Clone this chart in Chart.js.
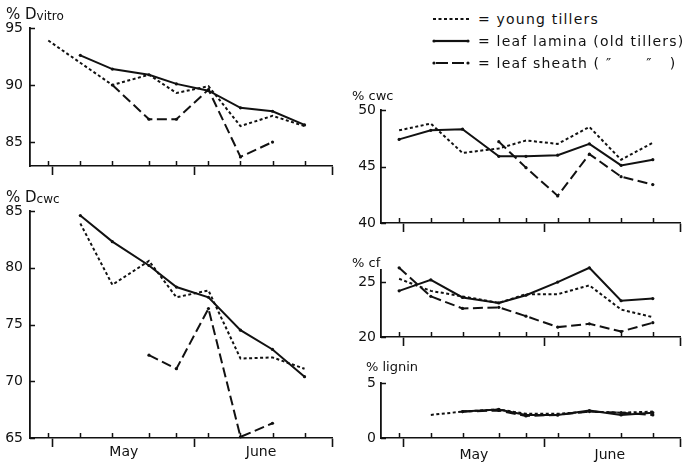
<!DOCTYPE html>
<html lang="en">
<head>
<meta charset="UTF-8">
<title>Digestibility and cell wall composition</title>
<script src="https://cdn.jsdelivr.net/npm/chart.js"></script>
<style>
  body { margin: 0; background: #fff; font-family: "DejaVu Sans", sans-serif; color: #111; }
  #wrap { position: relative; width: 685px; height: 464px; overflow: hidden; }
  canvas { position: absolute; }
  .ttl { position: absolute; font-size: 15px; line-height: 16px; white-space: pre; }
  .ttl .s { font-size: 12px; position: relative; top: 1px; }
  .ttl.sm { font-size: 13px; }
  .leg { position: absolute; left: 432px; height: 16px; font-size: 14px; letter-spacing: 1.2px;
         white-space: pre; display: flex; align-items: center; }
  .leg svg { margin-right: 8px; }
</style>
</head>
<body>
<div id="wrap">
  <canvas id="dvitro" width="345" height="190" style="left:0;top:0"></canvas>
  <canvas id="dcwc" width="345" height="274" style="left:0;top:190px"></canvas>
  <canvas id="cwc" width="345" height="150" style="left:340px;top:90px"></canvas>
  <canvas id="cf" width="345" height="105" style="left:340px;top:250px"></canvas>
  <canvas id="lignin" width="345" height="104" style="left:340px;top:360px"></canvas>

  <div class="ttl" style="left:6px;top:6px">% D<span class="s">vitro</span></div>
  <div class="ttl" style="left:6px;top:189px">% D<span class="s">cwc</span></div>
  <div class="ttl sm" style="left:352px;top:88px">% cwc</div>
  <div class="ttl sm" style="left:352px;top:255px">% cf</div>
  <div class="ttl sm" style="left:366px;top:359px">% lignin</div>

  <div class="leg" style="top:11px"><svg width="38" height="6"><line x1="1" y1="3" x2="37" y2="3" stroke="#111" stroke-width="2" stroke-dasharray="3 2.5"/></svg>= young tillers</div>
  <div class="leg" style="top:33px"><svg width="38" height="6"><line x1="3" y1="3" x2="35" y2="3" stroke="#111" stroke-width="2.2"/><circle cx="2" cy="3" r="1.6" fill="#111"/><circle cx="36" cy="3" r="1.6" fill="#111"/></svg>= leaf lamina (old tillers)</div>
  <div class="leg" style="top:55px"><svg width="38" height="6"><line x1="4" y1="3" x2="34" y2="3" stroke="#111" stroke-width="2.2" stroke-dasharray="12 4"/><circle cx="2" cy="3" r="1.6" fill="#111"/><circle cx="36" cy="3" r="1.6" fill="#111"/></svg>= leaf sheath ( ″      ″   )</div>
</div>

<script>
// sampling dates, in days after 1 May
const sampleDays = [-1, 6, 13, 21, 27, 34, 41, 48, 55];
const monthTicks = [0, 31, 61];
const monthMid = [15.5, 45.5];
const monthNames = ['May', 'June'];

// % Dvitro
const dvitroYoung  = [93.9, null, 90.0, 90.9, 89.3, 89.9, 86.4, 87.3, 86.4];
const dvitroLamina = [null, 92.6, 91.4, 90.9, 90.1, 89.5, 88.0, 87.7, 86.5];
const dvitroSheath = [null, null, 90.0, 87.0, 87.0, 89.6, 83.7, 85.0, null];
const dvitroTicks = [85, 90, 95];

// % Dcwc
const dcwcYoung  = [null, 83.9, 78.5, 80.6, 77.4, 78.0, 72.0, 72.1, 71.1];
const dcwcLamina = [null, 84.6, 82.3, 80.2, 78.3, 77.4, 74.5, 72.8, 70.4];
const dcwcSheath = [null, null, null, 72.3, 71.1, 76.4, 65.1, 66.3, null];
const dcwcTicks = [65, 70, 75, 80, 85];

// % cwc
const cwcYoung  = [48.2, 48.8, 46.2, 46.6, 47.3, 47.0, 48.5, 45.6, 47.1];
const cwcLamina = [47.4, 48.2, 48.3, 45.9, 45.9, 46.0, 47.0, 45.1, 45.6];
const cwcSheath = [null, null, null, 47.2, 44.9, 42.4, 46.1, 44.1, 43.4];
const cwcTicks = [40, 45, 50];

// % cf
const cfYoung  = [25.3, 24.2, 23.7, 23.1, 23.9, 23.9, 24.7, 22.5, 21.8];
const cfLamina = [24.2, 25.2, 23.6, 23.1, 23.8, 25.0, 26.3, 23.3, 23.5];
const cfSheath = [26.3, 23.7, 22.6, 22.7, 21.9, 20.9, 21.2, 20.5, 21.3];
const cfTicks = [20, 25];

// % lignin
const ligninYoung  = [null, 2.1, 2.4, 2.6, 2.2, 2.2, 2.4, 2.3, 2.4];
const ligninLamina = [null, null, 2.4, 2.6, 2.1, 2.1, 2.5, 2.1, 2.3];
const ligninSheath = [null, null, 2.4, 2.5, 2.0, 2.1, 2.4, 2.3, 2.1];
const ligninTicks = [0, 5];

const ink = '#111';
Chart.defaults.font.family = '"DejaVu Sans", sans-serif';
Chart.defaults.color = ink;

// short tick marks pointing into the plot: sampling dates on x, values on y
const inwardTicks = {
  id: 'inwardTicks',
  afterDatasetsDraw(chart) {
    const { ctx, chartArea, scales } = chart;
    ctx.save();
    ctx.strokeStyle = ink;
    ctx.lineWidth = 1.5;
    ctx.beginPath();
    sampleDays.forEach(d => {
      const x = Math.round(scales.x.getPixelForValue(d)) + 0.5;
      ctx.moveTo(x, chartArea.bottom);
      ctx.lineTo(x, chartArea.bottom - 5);
    });
    scales.y.ticks.forEach(t => {
      const y = Math.round(scales.y.getPixelForValue(t.value)) + 0.5;
      ctx.moveTo(chartArea.left, y);
      ctx.lineTo(chartArea.left + 5, y);
    });
    ctx.stroke();
    ctx.restore();
  }
};

function pts(vals) {
  return sampleDays.map((d, i) => ({ x: d, y: vals[i] }));
}

function line(vals, kind) {
  const ds = {
    data: pts(vals),
    borderColor: ink,
    backgroundColor: ink,
    borderWidth: 2,
    pointRadius: 1.6,
    pointBorderWidth: 0,
    spanGaps: true,
    tension: 0,
    clip: false
  };
  if (kind === 'young') { ds.borderDash = [3, 2.5]; ds.pointRadius = 0; }
  if (kind === 'sheath') { ds.borderDash = [10, 4.5]; }
  return ds;
}

function panel(id, p) {
  new Chart(document.getElementById(id), {
    type: 'line',
    data: {
      datasets: [
        line(p.young, 'young'),
        line(p.lamina, 'lamina'),
        line(p.sheath, 'sheath')
      ]
    },
    plugins: [inwardTicks],
    options: {
      responsive: false,
      animation: false,
      events: [],
      layout: { padding: { top: p.top, right: p.right, bottom: 0, left: 0 } },
      plugins: { legend: { display: false }, tooltip: { enabled: false } },
      scales: {
        x: {
          type: 'linear', min: -5, max: 61,
          // month boundaries get a tick, month names sit between them
          afterBuildTicks: s => {
            s.ticks = monthTicks.concat(monthMid).sort((a, b) => a - b).map(v => ({ value: v }));
          },
          afterFit: s => { s.height = p.xh; },
          ticks: {
            display: p.months, autoSkip: false, maxRotation: 0, padding: p.mpad,
            font: { size: 14 },
            callback: v => { const i = monthMid.indexOf(v); return i < 0 ? '' : monthNames[i]; }
          },
          grid: {
            drawOnChartArea: false, tickLength: 9, tickWidth: 1.6,
            tickColor: c => monthTicks.includes(c.tick.value) ? ink : 'rgba(0,0,0,0)'
          },
          border: { color: ink, width: 1.6 }
        },
        y: {
          min: p.min, max: p.max,
          afterBuildTicks: s => { s.ticks = p.ticks.map(v => ({ value: v })); },
          afterFit: s => { s.width = p.yw; },
          ticks: { padding: p.ypad, font: { size: 14 } },
          grid: { drawOnChartArea: false, drawTicks: false },
          border: { color: ink, width: 1.8 }
        }
      }
    }
  });
}

panel('dvitro', { young: dvitroYoung, lamina: dvitroLamina, sheath: dvitroSheath, ticks: dvitroTicks,
  min: 82.9, max: 95, top: 28, right: 13, yw: 30, xh: 24, ypad: 7, months: false, mpad: 0 });
panel('dcwc', { young: dcwcYoung, lamina: dcwcLamina, sheath: dcwcSheath, ticks: dcwcTicks,
  min: 65, max: 85, top: 21, right: 13, yw: 30, xh: 26, ypad: 7, months: true, mpad: -3 });
panel('cwc', { young: cwcYoung, lamina: cwcLamina, sheath: cwcSheath, ticks: cwcTicks,
  min: 40, max: 50, top: 20, right: 5, yw: 41, xh: 17, ypad: 5, months: false, mpad: 0 });
panel('cf', { young: cfYoung, lamina: cfLamina, sheath: cfSheath, ticks: cfTicks,
  min: 20, max: 26.1, top: 20, right: 5, yw: 41, xh: 18, ypad: 5, months: false, mpad: 0 });
panel('lignin', { young: ligninYoung, lamina: ligninLamina, sheath: ligninSheath, ticks: ligninTicks,
  min: 0, max: 5, top: 23, right: 5, yw: 41, xh: 26, ypad: 5, months: true, mpad: 0 });
</script>
</body>
</html>
